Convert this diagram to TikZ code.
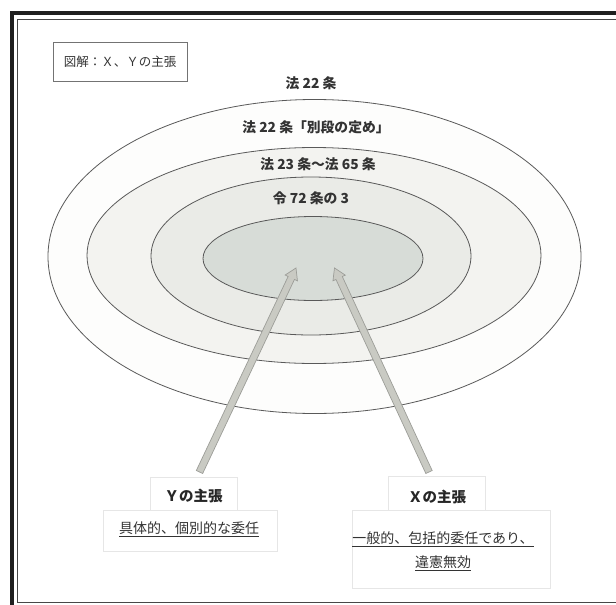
\documentclass[tikz,border=0pt]{standalone}
\usepackage{fontspec}
\setmainfont{Noto Sans CJK JP}
\usetikzlibrary{calc,shapes.geometric}
\definecolor{ringA}{HTML}{FDFDFC}
\definecolor{ringB}{HTML}{F3F3F0}
\definecolor{ringC}{HTML}{EAEBE7}
\definecolor{ringD}{HTML}{D7DCD7}
\definecolor{arrfill}{HTML}{C9CAC3}
\definecolor{arrline}{HTML}{9C9D98}
\definecolor{faint}{HTML}{E6E6E6}
\tikzset{
  ring/.style={ellipse, draw=black!65, line width=0.8pt, inner sep=0pt},
  lawlabel/.style={font=\fontsize{13.8}{16}\selectfont\bfseries, text=black!80, inner sep=1pt},
  claimtitle/.style={font=\fontsize{14.5}{17}\selectfont\bfseries, text=black!85},
  claimtext/.style={font=\fontsize{14}{24}\selectfont, text=black!80, align=center},
  softbox/.style={draw=faint, line width=0.8pt},
}
\newcommand\fatarrow[2]{%
  \coordinate (nk) at ($(#2)!11pt!(#1)$);
  \filldraw[fill=arrfill, draw=arrline, line width=0.7pt, line join=miter]
    ($(#1)!3.5pt!90:(#2)$) -- ($(nk)!3.5pt!90:(#2)$) -- ($(nk)!6.8pt!90:(#2)$)
    -- (#2) -- ($(nk)!6.8pt!-90:(#2)$) -- ($(nk)!3.5pt!-90:(#2)$)
    -- ($(#1)!3.5pt!-90:(#2)$) -- cycle;}
\begin{document}
\begin{tikzpicture}[x=1pt,y=-1pt]
\useasboundingbox (0,0) rectangle (616,605);
\clip (0,0) rectangle (616,605);
\fill[white] (0,0) rectangle (616,605);
% frame
\draw[line width=4pt, color=black!88] (12,13) rectangle (640,607.5);
\draw[line width=1.5pt, color=black!72] (17.5,19.5) rectangle (640,602.5);
% title box
\node[draw=black!55, line width=0.9pt, minimum width=134pt, minimum height=39pt,
  font=\fontsize{12.5}{15}\selectfont, text=black!80] (title) at (120,61.5) {図解：Ｘ、Ｙの主張};
% rings
\node[ring, fill=ringA, minimum width=533pt, minimum height=314pt] (r1) at (314.5,256.5) {};
\node[ring, fill=ringB, minimum width=454pt, minimum height=216pt] (r2) at (314,255.5) {};
\node[ring, fill=ringC, minimum width=320pt, minimum height=158pt] (r3) at (311,256) {};
\node[ring, fill=ringD, minimum width=220pt, minimum height=84pt] (r4) at (313,258.5) {};
% labels
\node[lawlabel] (l1) at (311,83) {法 22 条};
\node[lawlabel] (l2) at (316,127) {法 22 条「別段の定め」};
\node[lawlabel] (l3) at (318,164) {法 23 条～法 65 条};
\node[lawlabel] (l4) at (311,198) {令 72 条の 3};
% claim boxes
\draw[softbox] (103,510) rectangle (277,551);
\draw[softbox] (150,477) rectangle (237,510);
\node[claimtitle] (ytitle) at (193.5,496) {Ｙの主張};
\node[claimtext] (ytext) at (189,529) {\underline{具体的、個別的な委任}};
\draw[softbox] (352,510) rectangle (550,588);
\draw[softbox] (388,476) rectangle (485,510);
\node[claimtitle] (xtitle) at (437,497) {Ｘの主張};
\node[claimtext] (xtext) at (443,551) {\underline{一般的、包括的委任であり、}\\\underline{違憲無効}};
% arrows
\coordinate (ytail) at (199.5,472);
\coordinate (ytip) at (296,268);
\coordinate (xtail) at (429,472);
\coordinate (xtip) at (334.5,268);
\fatarrow{ytail}{ytip}
\fatarrow{xtail}{xtip}
\end{tikzpicture}
\end{document}
